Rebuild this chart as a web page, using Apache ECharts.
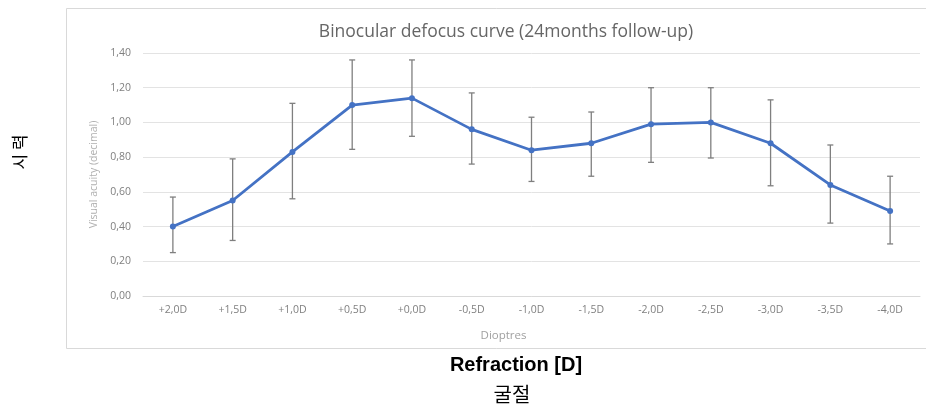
<!DOCTYPE html>
<html>
<head>
<meta charset="utf-8">
<script src="https://cdn.jsdelivr.net/npm/echarts@6/dist/echarts.min.js"></script>
<style>
html,body{margin:0;padding:0;background:#fff;}
#c{width:926px;height:409px;}
</style>
</head>
<body>
<div id="c"></div>
<script>
var categories = ['+2,0D','+1,5D','+1,0D','+0,5D','+0,0D','-0,5D','-1,0D','-1,5D','-2,0D','-2,5D','-3,0D','-3,5D','-4,0D'];
var acuity = [0.40, 0.55, 0.83, 1.10, 1.14, 0.96, 0.84, 0.88, 0.99, 1.00, 0.88, 0.64, 0.49];
var errUpper = [0.57, 0.79, 1.11, 1.36, 1.36, 1.17, 1.03, 1.06, 1.20, 1.20, 1.13, 0.87, 0.69];
var errLower = [0.25, 0.32, 0.56, 0.845, 0.92, 0.76, 0.66, 0.69, 0.77, 0.795, 0.635, 0.42, 0.30];
var yTicks = [0, 0.2, 0.4, 0.6, 0.8, 1.0, 1.2, 1.4];

var errData = categories.map(function (c, i) { return [i, errLower[i], errUpper[i]]; });

var chart = echarts.init(document.getElementById('c'));
chart.setOption({
  backgroundColor: '#fff',
  animation: false,
  title: {
    text: 'Binocular defocus curve (24months follow-up)',
    left: 501, top: 18, textAlign: 'center',
    textStyle: { fontFamily: 'Open Sans', fontSize: 17.5, fontWeight: 'normal', color: '#666' }
  },
  graphic: [
    { type: 'rect', shape: { x: 66.5, y: 8.5, width: 870, height: 340 }, style: { fill: 'none', stroke: '#d9d9d9', lineWidth: 1 }, z: -1 },
    { type: 'text', x: 20, y: 152, rotation: Math.PI / 2, style: { text: '시 력', font: '17px "Noto Sans CJK KR"', fill: '#000', textAlign: 'center', textVerticalAlign: 'middle' } },
    { type: 'text', x: 516, y: 365, style: { text: 'Refraction [D]', font: 'bold 20px "Liberation Sans"', fill: '#000', textAlign: 'center', textVerticalAlign: 'middle' } },
    { type: 'text', x: 512, y: 394, style: { text: '굴절', font: '20px "Noto Sans CJK KR"', fill: '#000', textAlign: 'center', textVerticalAlign: 'middle' } }
  ],
  grid: { left: 143, right: 6, top: 53, bottom: 113 },
  xAxis: {
    type: 'category',
    data: categories,
    name: 'Dioptres',
    nameLocation: 'middle',
    nameGap: 34,
    nameTextStyle: { fontFamily: 'Open Sans', fontSize: 11.5, color: '#a0a0a0', padding: [0, 56, 0, 0] },
    axisLine: { show: true, lineStyle: { color: '#d9d9d9', width: 1 } },
    axisTick: { show: false },
    axisLabel: { fontFamily: 'Open Sans', fontSize: 10.5, color: '#808080', margin: 9 }
  },
  yAxis: {
    type: 'value',
    min: 0, max: 1.4, interval: 0.2,
    name: 'Visual acuity (decimal)',
    nameLocation: 'middle',
    nameGap: 43,
    nameTextStyle: { fontFamily: 'Open Sans', fontSize: 10.5, color: '#b0b0b0' },
    axisLine: { show: false },
    axisTick: { show: false },
    splitLine: { lineStyle: { color: '#e3e3e3', width: 1 } },
    axisLabel: {
      fontFamily: 'Open Sans', fontSize: 10.5, color: '#808080', margin: 12,
      formatter: function (v) { return v.toFixed(2).replace('.', ','); }
    }
  },
  series: [
    {
      type: 'custom',
      data: errData,
      z: 1,
      renderItem: function (params, api) {
        var x = api.value(0);
        var lo = api.coord([x, api.value(1)]);
        var hi = api.coord([x, api.value(2)]);
        var cap = 3;
        var st = { stroke: '#7f7f7f', lineWidth: 1.3, fill: 'none' };
        return {
          type: 'group',
          children: [
            { type: 'line', shape: { x1: hi[0], y1: hi[1], x2: lo[0], y2: lo[1] }, style: st },
            { type: 'line', shape: { x1: hi[0] - cap, y1: hi[1], x2: hi[0] + cap, y2: hi[1] }, style: st },
            { type: 'line', shape: { x1: lo[0] - cap, y1: lo[1], x2: lo[0] + cap, y2: lo[1] }, style: st }
          ]
        };
      }
    },
    {
      type: 'line',
      data: acuity,
      z: 2,
      symbol: 'circle',
      symbolSize: 6,
      lineStyle: { color: '#4472C4', width: 2.8 },
      itemStyle: { color: '#4472C4' }
    }
  ]
});
</script>
</body>
</html>
